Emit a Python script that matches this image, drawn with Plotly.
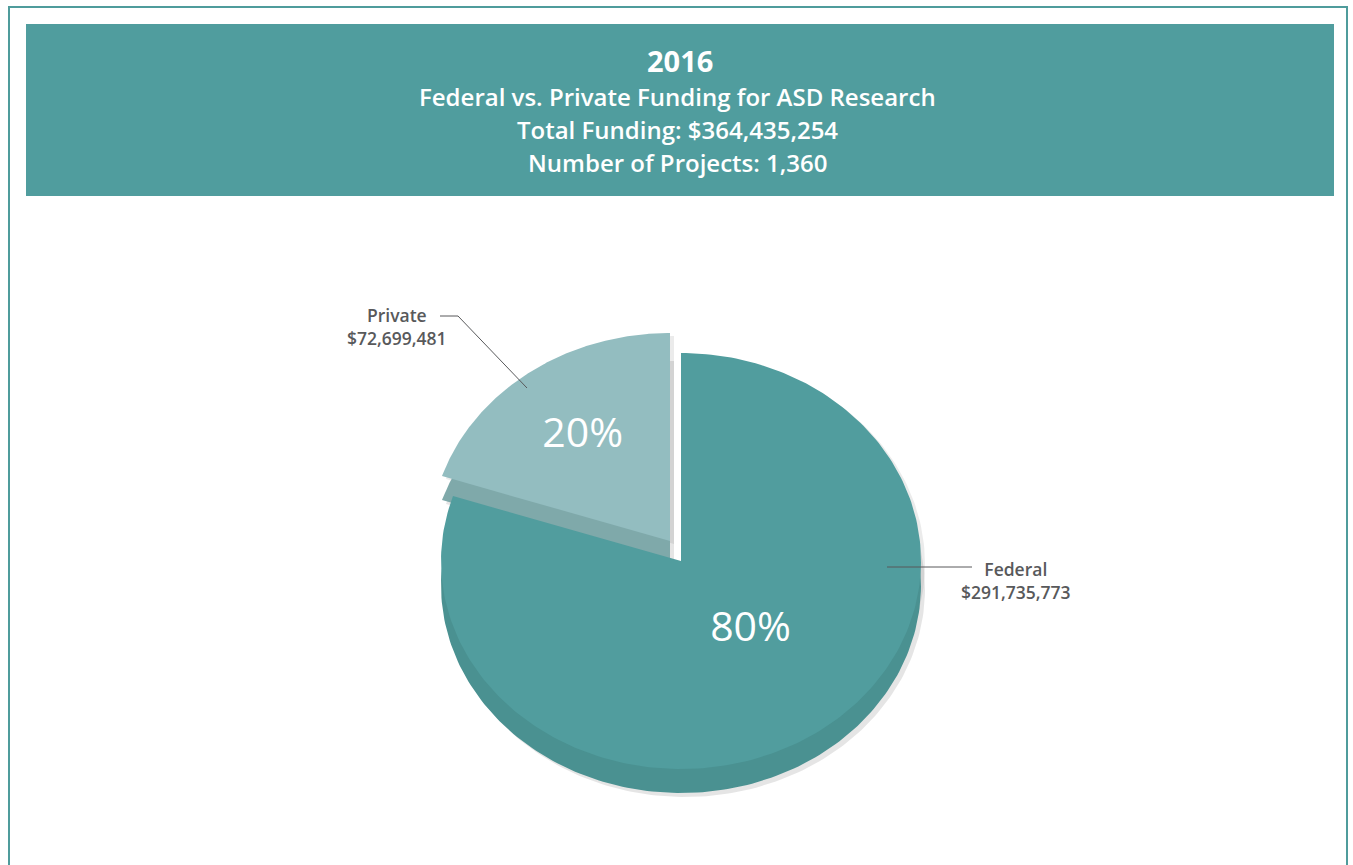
import numpy as np
import plotly.graph_objects as go

# data
sources = ["Federal", "Private"]
funding = [291735773, 72699481]
year = "2016"
n_projects = 1360

total = sum(funding)
pct = [round(v / total * 100) for v in funding]

# geometry of the tilted pie (pixel coordinates)
CX, CY = 681, 561
RX, RY = 240, 208
DEPTH = 24
PULL = {"Private": (-11, -20)}
TEXT_R = {"Federal": 0.43, "Private": 0.62}
TEXT_SHIFT = {"Federal": (9, -3), "Private": (0, 0)}

top_colors = {"Federal": "#519d9e", "Private": "#93bdc0"}
side_colors = {"Federal": "#4a9191", "Private": "#7fa9aa"}


def sector(a0, a1, cx, cy, n=240):
    """ polygon of an elliptic sector, angles clockwise from 12 o'clock """
    t = np.radians(np.linspace(a0, a1, n))
    x = np.concatenate([[cx], cx + RX * np.sin(t), [cx]])
    y = np.concatenate([[cy], cy - RY * np.cos(t), [cy]])
    return x, y


fig = go.Figure()

# slice angles
angles = []
start = 0
for v in funding:
    span = 360 * v / total
    angles.append((start, start + span))
    start += span

centers = {}
for name in sources:
    dx, dy = PULL.get(name, (0, 0))
    centers[name] = (CX + dx, CY + dy)

# shadows
for name, (a0, a1) in zip(sources, angles):
    cx, cy = centers[name]
    x, y = sector(a0, a1, cx + 4, cy + DEPTH + 4)
    fig.add_trace(go.Scatter(x=x, y=y, fill="toself", mode="lines",
                             line=dict(width=0), fillcolor="rgba(0,0,0,0.10)",
                             hoverinfo="skip", showlegend=False))
    x, y = sector(a0, a1, cx + 4, cy + 3)
    fig.add_trace(go.Scatter(x=x, y=y, fill="toself", mode="lines",
                             line=dict(width=0), fillcolor="rgba(0,0,0,0.08)",
                             hoverinfo="skip", showlegend=False))

# draw private first so federal sits in front
order = [1, 0]
for i in order:
    name = sources[i]
    a0, a1 = angles[i]
    cx, cy = centers[name]
    x, y = sector(a0, a1, cx, cy + DEPTH)
    fig.add_trace(go.Scatter(x=x, y=y, fill="toself", mode="lines",
                             line=dict(width=0), fillcolor=side_colors[name],
                             hoverinfo="skip", showlegend=False))
    x, y = sector(a0, a1, cx, cy)
    fig.add_trace(go.Scatter(x=x, y=y, fill="toself", mode="lines",
                             line=dict(width=0), fillcolor=top_colors[name],
                             hoverinfo="skip", showlegend=False))

# percentage labels
for name, (a0, a1), p in zip(sources, angles, pct):
    cx, cy = centers[name]
    mid = np.radians((a0 + a1) / 2)
    f = TEXT_R[name]
    sx, sy = TEXT_SHIFT[name]
    fig.add_trace(go.Scatter(
        x=[cx + f * RX * np.sin(mid) + sx], y=[cy - f * RY * np.cos(mid) + sy],
        mode="text", text=[f"{p}%"],
        textfont=dict(family="Open Sans", size=41, color="white"),
        hoverinfo="skip", showlegend=False))

# leader lines
fig.add_trace(go.Scatter(x=[887, 972], y=[567, 567], mode="lines",
                         line=dict(color="#58595b", width=1),
                         hoverinfo="skip", showlegend=False))
fig.add_trace(go.Scatter(x=[440, 458, 527], y=[316, 316, 388], mode="lines",
                         line=dict(color="#58595b", width=1),
                         hoverinfo="skip", showlegend=False))

label_font = dict(family="Open Sans", size=17.5, color="#58595b", weight=600)
label_pos = {"Federal": (1016, 580), "Private": (397, 326)}
for name, v in zip(sources, funding):
    x, y = label_pos[name]
    fig.add_annotation(x=x, y=y, xref="x", yref="y", showarrow=False,
                       text=f"{name}<br>${v:,}", font=label_font,
                       align="center")

# header banner and frame
fig.add_shape(type="rect", xref="x", yref="y", x0=9, x1=1347, y0=7, y1=900,
              line=dict(color="#4f9c9c", width=2), fillcolor="rgba(0,0,0,0)",
              layer="below")
fig.add_shape(type="rect", xref="x", yref="y", x0=26, x1=1334, y0=24, y1=196,
              line=dict(width=0), fillcolor="#509d9e", layer="below")

head_font = dict(family="Open Sans", color="white", weight=600)
fig.add_annotation(x=680, y=60, xref="x", yref="y", showarrow=False,
                   text=f"<b>{year}</b>", font=dict(head_font, size=29))
header_lines = [
    "Federal vs. Private Funding for ASD Research",
    f"Total Funding: ${total:,}",
    f"Number of Projects: {n_projects:,}",
]
for k, line in enumerate(header_lines):
    fig.add_annotation(x=677, y=96 + 33 * k, xref="x", yref="y",
                       showarrow=False, text=line, font=dict(head_font, size=24))

fig.update_layout(
    width=1353, height=865,
    margin=dict(l=0, r=0, t=0, b=0),
    paper_bgcolor="white", plot_bgcolor="white",
    xaxis=dict(range=[0, 1353], visible=False, fixedrange=True),
    yaxis=dict(range=[865, 0], visible=False, fixedrange=True),
    showlegend=False,
)

fig.write_html("out.html", config=dict(displayModeBar=False),
               post_script="document.body.style.margin='0';"
                           "document.body.style.overflow='hidden';")
